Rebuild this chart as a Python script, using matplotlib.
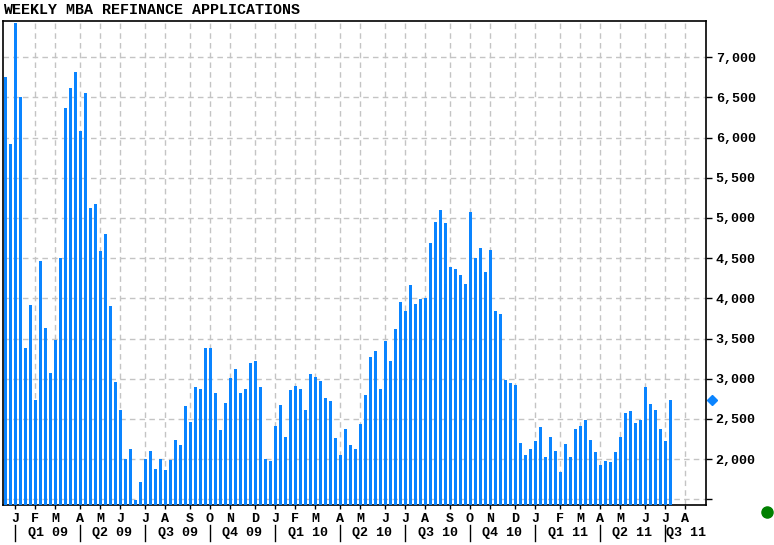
import numpy as np
import pandas as pd
import matplotlib
matplotlib.use('Agg')
import matplotlib.pyplot as plt

plt.rcParams['font.family'] = ['Liberation Mono', 'DejaVu Sans Mono']

# weekly refinance index, first bar = week of 2008-12-22
start_week = '2008-12-22'
refi = [6750, 5925, 7421, 6510, 3379, 3921, 2733, 4471, 3633, 3071,
        3480, 4500, 6367, 6621, 6821, 6083, 6558, 5125, 5171, 4592,
        4796, 3908, 2958, 2608, 2000, 2121, 1492, 1717, 2008, 2096,
        1875, 1996, 1867, 1988, 2233, 2171, 2658, 2462, 2894, 2871,
        3383, 3383, 2821, 2358, 2696, 3008, 3121, 2821, 2867, 3196,
        3221, 2896, 2008, 1979, 2408, 2671, 2271, 2856, 2908, 2871,
        2608, 3058, 3021, 2971, 2758, 2721, 2258, 2046, 2371, 2171,
        2121, 2433, 2796, 3271, 3346, 2869, 3471, 3221, 3621, 3958,
        3842, 4171, 3933, 3988, 4008, 4683, 4946, 5096, 4933, 4396,
        4362, 4296, 4183, 5071, 4500, 4631, 4333, 4596, 3846, 3808,
        2983, 2950, 2921, 2196, 2046, 2121, 2221, 2396, 2029, 2271,
        2096, 1846, 2183, 2033, 2381, 2408, 2483, 2233, 2083, 1933,
        1983, 1971, 2083, 2271, 2575, 2596, 2446, 2483, 2896, 2688,
        2608, 2371, 2221, 2733]
y_ticks = list(range(1500, 7001, 500))
month_letters = 'JFMAMJJASOND'

# weeks incl. a few empty ones after the last bar (axis runs to Aug 2011)
weeks = pd.date_range(start_week, periods=141, freq='W-MON')
month_idx = [i for i, d in enumerate(weeks) if d.day <= 7]
month_lbl = [month_letters[weeks[i].month - 1] for i in month_idx]
quarter_idx = [i for i in month_idx if weeks[i].month in (1, 4, 7, 10)]
quarter_lbl = ['Q%d %02d' % ((weeks[i].month - 1) // 3 + 1, weeks[i].year % 100)
               for i in quarter_idx]

fig = plt.figure(figsize=(7.74, 5.45), dpi=100)
ax = fig.add_axes([3 / 774, 40 / 545, 703 / 774, 484 / 545])

x = np.arange(len(refi))
ax.bar(x, refi, width=0.6, color='#0a84ff', zorder=3)

ax.set_xlim(-0.4, 140.2)
ax.set_ylim(1430, 7450)

# y axis on the right
ax.yaxis.tick_right()
ax.set_yticks(y_ticks)
ax.set_yticklabels(['' if v == 1500 else f'{v:,}' for v in y_ticks])
ax.tick_params(axis='y', direction='out', length=4, width=1, pad=3,
               labelsize=9.6, colors='black')

ax.set_xticks(month_idx)
ax.set_xticklabels(month_lbl)
ax.tick_params(axis='x', direction='out', length=3, width=1, pad=3,
               labelsize=9.6)
for lbl in ax.get_xticklabels() + ax.get_yticklabels():
    lbl.set_fontweight('bold')

ax.grid(True, color='#c4c4c4', linestyle=(0, (4, 3)), linewidth=1)
ax.set_axisbelow(True)
for s in ax.spines.values():
    s.set_linewidth(1.2)
    s.set_color('black')

# quarter row under the month letters
trans = ax.get_xaxis_transform()
for k, qi in enumerate(quarter_idx):
    ax.plot([qi, qi], [-0.041, -0.0744], transform=trans, color='black',
            lw=1, clip_on=False)
    nxt = quarter_idx[k + 1] if k + 1 < len(quarter_idx) else ax.get_xlim()[1]
    ax.text((qi + nxt) / 2, -0.058, quarter_lbl[k], transform=trans,
            ha='center', va='center', fontsize=9.6, fontweight='bold')

# latest value marker on the right axis
ax.plot([1.008], [refi[-1]], marker='D', ms=5.5, color='#0a84ff',
        transform=matplotlib.transforms.blended_transform_factory(ax.transAxes, ax.transData),
        clip_on=False)

fig.text(3 / 774, 1 - 9.5 / 545, 'WEEKLY MBA REFINANCE APPLICATIONS',
         fontsize=10.8, fontweight='bold', ha='left', va='center')
fig.add_artist(plt.Line2D([766.7 / 774], [1 - 512 / 545], marker='o', ms=8,
                          color='#008000', transform=fig.transFigure))

fig.savefig('out.png', dpi=100)
plt.close(fig)
